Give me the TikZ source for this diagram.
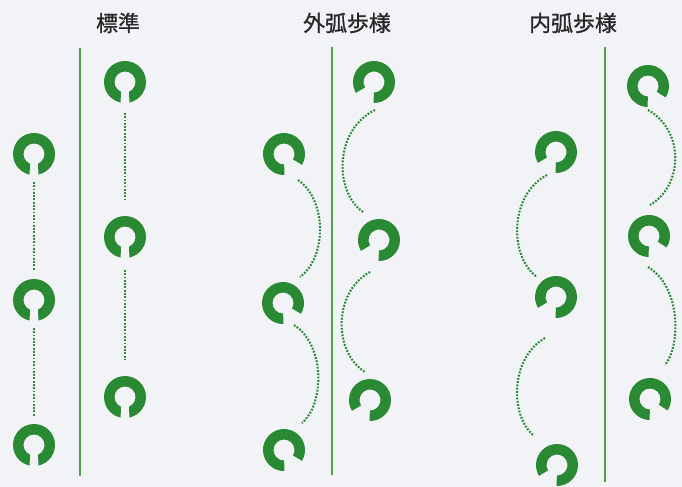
\documentclass[tikz,border=0pt]{standalone}
\usepackage{fontspec}
\newfontfamily\jpfont[FakeBold=1]{Noto Sans CJK JP}
\definecolor{hoof}{RGB}{42,138,52}
\definecolor{midline}{RGB}{80,160,75}
\definecolor{bgcol}{RGB}{242,243,246}
\definecolor{ttl}{RGB}{40,40,40}
% #1 name, #2 position, #3 gap direction, #4 outer half gap, #5 inner half gap
\newcommand\hoofring[5]{\coordinate (#1) at (#2);
  \fill[hoof] ([shift={({#3+#4}:21)}]#1) arc[start angle={#3+#4}, end angle={#3+360-#4}, radius=21]
    -- ([shift={({#3+360-#5}:10.5)}]#1) arc[start angle={#3+360-#5}, end angle={#3+#5}, radius=10.5] -- cycle;}
\begin{document}
\begin{tikzpicture}[x=1bp,y=1bp,
  dotline/.style={hoof,line width=2.1bp,dash pattern=on 1.8bp off 1.5bp},
  midst/.style={midline,line width=1.2bp},
  ttlst/.style={text=ttl,font=\jpfont\fontsize{22}{26}\selectfont,inner sep=0pt}]
\fill[bgcol] (0,0) rectangle (682,487);
\useasboundingbox (0,0) rectangle (682,487);

% titles
\node[ttlst] (t1) at (118,464) {標準};
\node[ttlst] (t2) at (347,464) {外弧歩様};
\node[ttlst] (t3) at (573,464) {内弧歩様};

% center lines
\coordinate (l1t) at (80,439); \coordinate (l1b) at (80,11);
\coordinate (l2t) at (332,440); \coordinate (l2b) at (332,12);
\coordinate (l3t) at (605,440); \coordinate (l3b) at (605,5);
\draw[midst] (l1t) -- (l1b);
\draw[midst] (l2t) -- (l2b);
\draw[midst] (l3t) -- (l3b);

% panel 1
\hoofring{A1}{34,333}{-90}{12}{23}
\hoofring{A2}{34,187}{-90}{12}{23}
\hoofring{A3}{34,42}{-90}{12}{23}
\hoofring{B1}{125,405}{-90}{12}{23}
\hoofring{B2}{125,250}{-90}{12}{23}
\hoofring{B3}{125,90}{-90}{12}{23}
\draw[dotline] ([yshift=-28bp]A1) -- ([yshift=30bp]A2);
\draw[dotline] ([yshift=-28bp]A2) -- ([yshift=28bp]A3);
\draw[dotline] ([yshift=-31bp]B1) -- ([yshift=37bp]B2);
\draw[dotline] ([yshift=-33bp]B2) -- ([yshift=37bp]B3);

% panel 2
\hoofring{C1}{284,333}{-60}{29}{29}
\hoofring{C2}{283,184}{-60}{29}{29}
\hoofring{C3}{284,37}{-60}{29}{29}
\hoofring{D1}{374,405}{-120}{29}{29}
\hoofring{D2}{379,247}{-120}{29}{29}
\hoofring{D3}{370,87}{-120}{29}{29}
\draw[dotline] ([shift={(14,-26)}]C1) .. controls +(29,-20) and +(27,20) .. ([shift={(17,26)}]C2);
\draw[dotline] ([shift={(11,-22)}]C2) .. controls +(31,-20) and +(23,20) .. ([shift={(18,27)}]C3);
\draw[dotline] ([shift={(1,-28)}]D1) .. controls +(-41,-20) and +(-29,20) .. ([shift={(-16,28)}]D2);
\draw[dotline] ([shift={(-9,-32)}]D2) .. controls +(-37,-20) and +(-32,20) .. ([shift={(-5,28)}]D3);

% panel 3
\hoofring{E1}{556,335}{-120}{29}{29}
\hoofring{E2}{556,190}{-120}{29}{29}
\hoofring{E3}{557,22}{-120}{29}{29}
\hoofring{F1}{648,401}{-62}{29}{29}
\hoofring{F2}{649,251}{-62}{29}{29}
\hoofring{F3}{650,88}{-62}{29}{29}
\draw[dotline] ([shift={(-9,-23)}]E1) .. controls +(-38,-20) and +(-28,20) .. ([shift={(-19,20)}]E2);
\draw[dotline] ([shift={(-11,-41)}]E2) .. controls +(-35,-20) and +(-23,20) .. ([shift={(-24,30)}]E3);
\draw[dotline] ([shift={(0,-24)}]F1) .. controls +(36,-20) and +(34,20) .. ([shift={(1,31)}]F2);
\draw[dotline] ([shift={(-1,-31)}]F2) .. controls +(33,-20) and +(16,20) .. ([shift={(15,34)}]F3);
\end{tikzpicture}
\end{document}
